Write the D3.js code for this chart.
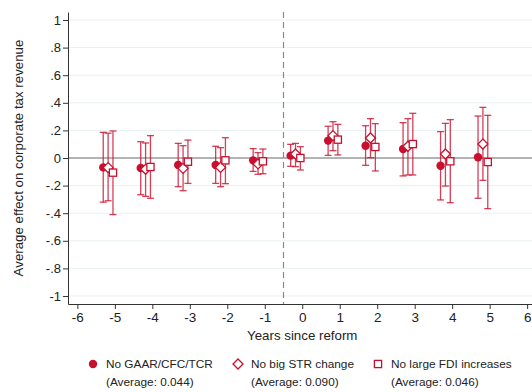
<!DOCTYPE html>
<html>
<head>
<meta charset="utf-8">
<script src="https://cdn.jsdelivr.net/npm/d3@7"></script>
<style>
	body { margin: 0; background: #fff; }
	text { font-family: "Liberation Sans", Arial, sans-serif; fill: #222; }
</style>
</head>
<body>
<script>
// data
var years = [-5, -4, -3, -2, -1, 0, 1, 2, 3, 4, 5];

var gaarEst = [-0.068, -0.072, -0.051, -0.051, -0.017, 0.017, 0.126, 0.089, 0.065, -0.056, 0.005];
var gaarLo  = [-0.32, -0.266, -0.208, -0.184, -0.097, -0.06, 0.019, -0.053, -0.13, -0.304, -0.292];
var gaarHi  = [0.186, 0.118, 0.106, 0.085, 0.068, 0.099, 0.23, 0.234, 0.256, 0.191, 0.304];

var strEst = [-0.07, -0.082, -0.075, -0.068, -0.043, 0.029, 0.162, 0.145, 0.085, 0.029, 0.101];
var strLo  = [-0.31, -0.278, -0.237, -0.208, -0.118, -0.063, 0.053, 0.002, -0.123, -0.203, -0.162];
var strHi  = [0.18, 0.109, 0.089, 0.075, 0.039, 0.106, 0.263, 0.285, 0.285, 0.251, 0.367];

var fdiEst = [-0.106, -0.065, -0.027, -0.017, -0.024, 0, 0.133, 0.08, 0.101, -0.024, -0.029];
var fdiLo  = [-0.41, -0.292, -0.184, -0.186, -0.114, -0.087, 0.022, -0.094, -0.123, -0.324, -0.367];
var fdiHi  = [0.196, 0.162, 0.13, 0.147, 0.065, 0.082, 0.244, 0.249, 0.324, 0.278, 0.309];

var seriesNames = ["No GAAR/CFC/TCR", "No big STR change", "No large FDI increases"];
var seriesAvg = ["(Average: 0.044)", "(Average: 0.090)", "(Average: 0.046)"];

var xTicks = [-6, -5, -4, -3, -2, -1, 0, 1, 2, 3, 4, 5, 6];
var yTicks = [-1, -0.8, -0.6, -0.4, -0.2, 0, 0.2, 0.4, 0.6, 0.8, 1];
var yTickLabels = ["-1", "-.8", "-.6", "-.4", "-.2", "0", ".2", ".4", ".6", ".8", "1"];

var red = "#c8102e";

var width = 532, height = 392;

var svg = d3.select("body").append("svg")
	.attr("width", width)
	.attr("height", height);

var x = d3.scaleLinear().domain([-6.25, 6.13]).range([68, 532]);
var y = d3.scaleLinear().domain([-1.058, 1.058]).range([304, 12]);

// grid lines
svg.append("g")
	.selectAll("line")
	.data(yTicks.filter(function(d) { return d !== 0; }))
	.enter().append("line")
	.attr("x1", x.range()[0])
	.attr("x2", width)
	.attr("y1", function(d) { return y(d); })
	.attr("y2", function(d) { return y(d); })
	.attr("stroke", "#e8f0f2")
	.attr("stroke-width", 1);

// zero line
svg.append("line")
	.attr("x1", x.range()[0])
	.attr("x2", width)
	.attr("y1", y(0))
	.attr("y2", y(0))
	.attr("stroke", "#9a9a9a")
	.attr("stroke-width", 1.5);

// reform line
svg.append("line")
	.attr("x1", x(-0.5))
	.attr("x2", x(-0.5))
	.attr("y1", y.range()[1])
	.attr("y2", y.range()[0])
	.attr("stroke", "#8a8a8a")
	.attr("stroke-width", 1.2)
	.attr("stroke-dasharray", "6,4");

// axes
var yAxis = d3.axisLeft(y)
	.tickValues(yTicks)
	.tickSize(5)
	.tickSizeOuter(0)
	.tickFormat(function(d, i) { return yTickLabels[i]; });

svg.append("g")
	.attr("transform", "translate(" + x.range()[0] + ",0)")
	.call(yAxis)
	.call(function(g) {
		g.selectAll("text").style("font-size", "13px").attr("x", -7);
		g.select(".domain").attr("stroke", "#333");
		g.selectAll(".tick line").attr("stroke", "#333");
	});

var xAxis = d3.axisBottom(x)
	.tickValues(xTicks)
	.tickSize(5)
	.tickSizeOuter(0)
	.tickFormat(function(d) { return String(d); });

svg.append("g")
	.attr("transform", "translate(0," + y.range()[0] + ")")
	.call(xAxis)
	.call(function(g) {
		g.selectAll("text").style("font-size", "13.5px").attr("y", 8);
		g.select(".domain").attr("stroke", "#333");
		g.selectAll(".tick line").attr("stroke", "#333");
	});

// axis titles
svg.append("text")
	.attr("transform", "translate(23," + y(0) + ") rotate(-90)")
	.attr("text-anchor", "middle")
	.style("font-size", "13.3px")
	.text("Average effect on corporate tax revenue");

svg.append("text")
	.attr("x", x(0))
	.attr("y", 340)
	.attr("text-anchor", "middle")
	.style("font-size", "13.3px")
	.text("Years since reform");

// series
var series = [
	{ est: gaarEst, lo: gaarLo, hi: gaarHi, off: -0.31, shape: "circle" },
	{ est: strEst, lo: strLo, hi: strHi, off: -0.18, shape: "diamond" },
	{ est: fdiEst, lo: fdiLo, hi: fdiHi, off: -0.05, shape: "square" }
];

function drawMarker(g, shape, cx, cy) {
	if (shape === "circle") {
		g.append("circle")
			.attr("cx", cx).attr("cy", cy).attr("r", 4.2)
			.attr("fill", red);
	} else if (shape === "diamond") {
		g.append("path")
			.attr("d", "M" + cx + "," + (cy - 5) + "L" + (cx + 5) + "," + cy + "L" + cx + "," + (cy + 5) + "L" + (cx - 5) + "," + cy + "Z")
			.attr("fill", "#fff")
			.attr("stroke", red)
			.attr("stroke-width", 1.3);
	} else {
		g.append("rect")
			.attr("x", cx - 3.6).attr("y", cy - 3.6)
			.attr("width", 7.2).attr("height", 7.2)
			.attr("fill", "#fff")
			.attr("stroke", red)
			.attr("stroke-width", 1.3);
	}
}

series.forEach(function(s) {
	var g = svg.append("g");
	years.forEach(function(yr, i) {
		var cx = x(yr + s.off);
		var bars = g.append("g")
			.attr("stroke", red)
			.attr("stroke-opacity", 0.8)
			.attr("stroke-width", 1.3);
		bars.append("line")
			.attr("x1", cx).attr("x2", cx)
			.attr("y1", y(s.lo[i])).attr("y2", y(s.hi[i]));
		bars.append("line")
			.attr("x1", cx - 3.5).attr("x2", cx + 3.5)
			.attr("y1", y(s.lo[i])).attr("y2", y(s.lo[i]));
		bars.append("line")
			.attr("x1", cx - 3.5).attr("x2", cx + 3.5)
			.attr("y1", y(s.hi[i])).attr("y2", y(s.hi[i]));
	});
	years.forEach(function(yr, i) {
		drawMarker(g, s.shape, x(yr + s.off), y(s.est[i]));
	});
});

// legend
var legendX = [93, 238, 378];
var legend = svg.append("g");
series.forEach(function(s, i) {
	drawMarker(legend, s.shape, legendX[i], 364);
	legend.append("text")
		.attr("x", legendX[i] + 13)
		.attr("y", 368)
		.style("font-size", "11.8px")
		.text(seriesNames[i]);
	legend.append("text")
		.attr("x", legendX[i] + 13)
		.attr("y", 386)
		.style("font-size", "11.8px")
		.text(seriesAvg[i]);
});
</script>
</body>
</html>
